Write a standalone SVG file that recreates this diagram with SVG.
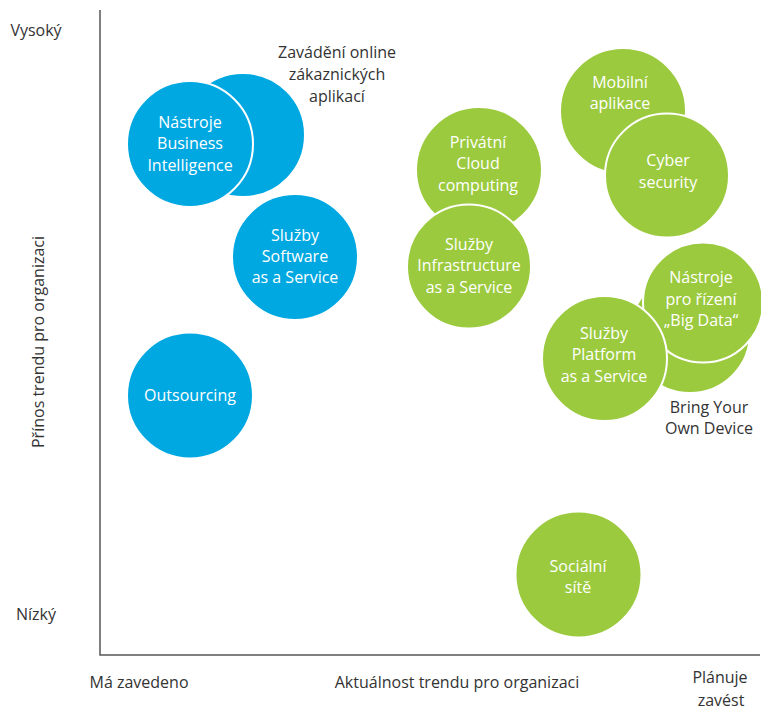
<svg xmlns="http://www.w3.org/2000/svg" width="761" height="710" viewBox="0 0 761 710">
<style>
  .b { fill: #00A8E2; stroke: #fff; stroke-width: 2; }
  .g { fill: #9BCA3E; stroke: #fff; stroke-width: 2; }
  text { font-family: "Open Sans", "Liberation Sans", sans-serif; font-size: 16px; text-anchor: middle; }
  .w { fill: #fff; }
  .d { fill: #333; }
  .ax { stroke: #555; stroke-width: 1.5; fill: none; }
</style>
<rect width="761" height="710" fill="#fff"/>
<g id="axes">
  <path class="ax" d="M100,10 V655 H760"/>
  <text class="d" x="36" y="36">Vysoký</text>
  <text class="d" x="36" y="620">Nízký</text>
  <text class="d" transform="translate(44,342) rotate(-90)">Přínos trendu pro organizaci</text>
  <text class="d" x="139" y="688">Má zavedeno</text>
  <text class="d" x="457" y="688">Aktuálnost trendu pro organizaci</text>
  <text class="d" x="720" y="683">Plánuje</text>
  <text class="d" x="721" y="706">zavést</text>
</g>
<g id="connectors"></g>
<g id="zavadeni">
  <circle class="b" cx="243" cy="135" r="62"/>
  <text class="d" x="337" y="58">Zavádění online</text>
  <text class="d" x="337" y="80">zákaznických</text>
  <text class="d" x="337" y="102">aplikací</text>
</g>
<g id="bi">
  <circle class="b" cx="190" cy="144" r="63"/>
  <text class="w" x="190" y="128">Nástroje</text>
  <text class="w" x="190" y="149">Business</text>
  <text class="w" x="190" y="171">Intelligence</text>
</g>
<g id="saas">
  <circle class="b" cx="295" cy="257" r="63"/>
  <text class="w" x="295" y="241">Služby</text>
  <text class="w" x="295" y="262">Software</text>
  <text class="w" x="295" y="283">as a Service</text>
</g>
<g id="outsourcing">
  <circle class="b" cx="190" cy="395.5" r="63"/>
  <text class="w" x="190" y="401">Outsourcing</text>
</g>
<g id="cloud">
  <circle class="g" cx="479" cy="170" r="63"/>
  <text class="w" x="478" y="148">Privátní</text>
  <text class="w" x="478" y="169">Cloud</text>
  <text class="w" x="478" y="191">computing</text>
</g>
<g id="iaas">
  <circle class="g" cx="469" cy="266.5" r="62"/>
  <text class="w" x="469" y="250">Služby</text>
  <text class="w" x="469" y="271">Infrastructure</text>
  <text class="w" x="469" y="293">as a Service</text>
</g>
<g id="mobilni">
  <circle class="g" cx="623" cy="111" r="63"/>
  <text class="w" x="620" y="88">Mobilní</text>
  <text class="w" x="620" y="109">aplikace</text>
</g>
<g id="cyber">
  <circle class="g" cx="667" cy="175.5" r="62"/>
  <text class="w" x="668" y="166">Cyber</text>
  <text class="w" x="668" y="188">security</text>
</g>
<g id="byod">
  <circle class="g" cx="690" cy="333" r="60"/>
  <text class="d" x="709" y="413">Bring Your</text>
  <text class="d" x="709" y="434">Own Device</text>
</g>
<g id="bigdata">
  <circle class="g" cx="703" cy="302.5" r="60"/>
  <text class="w" x="701" y="283">Nástroje</text>
  <text class="w" x="701" y="305">pro řízení</text>
  <text class="w" x="701" y="326">„Big Data“</text>
</g>
<g id="paas">
  <circle class="g" cx="604.5" cy="358.5" r="62.5"/>
  <text class="w" x="604" y="339">Služby</text>
  <text class="w" x="604" y="360">Platform</text>
  <text class="w" x="604" y="382">as a Service</text>
</g>
<g id="social">
  <circle class="g" cx="578.5" cy="574.5" r="63"/>
  <text class="w" x="578" y="572">Sociální</text>
  <text class="w" x="578" y="593">sítě</text>
</g>
</svg>
